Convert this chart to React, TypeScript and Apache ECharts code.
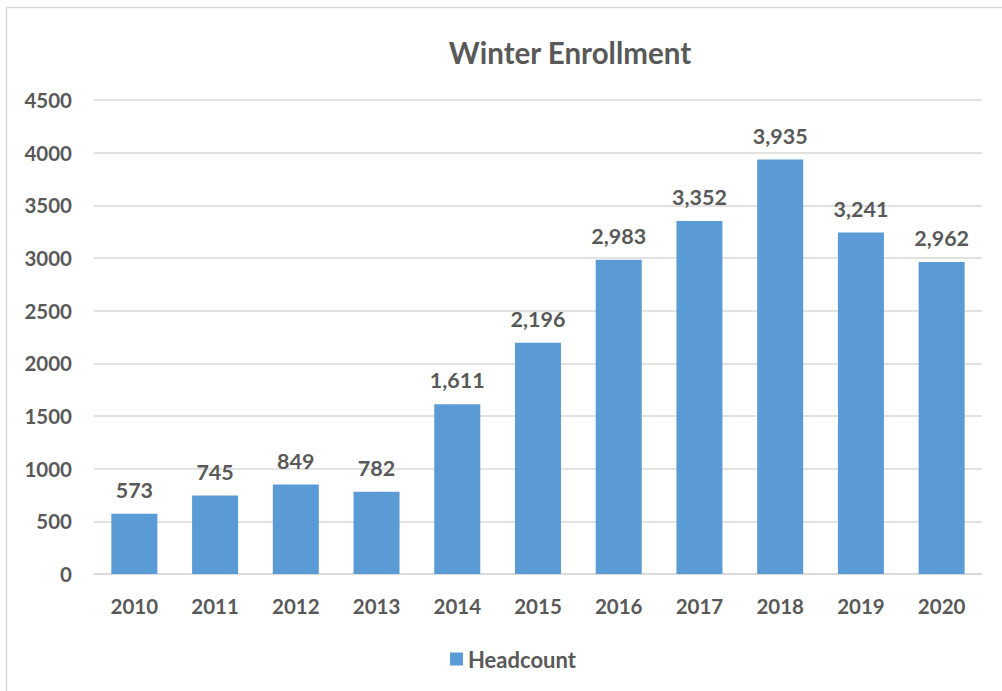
import React, { useEffect, useRef } from "react";
import * as echarts from "echarts";

const years = ["2010", "2011", "2012", "2013", "2014", "2015", "2016", "2017", "2018", "2019", "2020"];
const headcount = [573, 745, 849, 782, 1611, 2196, 2983, 3352, 3935, 3241, 2962];
const seriesName = "Headcount";
const titleText = "Winter Enrollment";

const FONT = "Lato, 'Open Sans', sans-serif";
const TXT = "#595959";

export default function App() {
  const ref = useRef<HTMLDivElement>(null);
  useEffect(() => {
    const chart = echarts.init(ref.current!, null, { renderer: "svg" });
    chart.setOption({
      animation: false,
      backgroundColor: "#fff",
      title: {
        text: titleText,
        left: 565,
        textAlign: "center",
        top: 32,
        textStyle: { color: TXT, fontSize: 29.5, fontWeight: "bold", fontFamily: FONT },
      },
      legend: {
        data: [seriesName],
        left: 445,
        top: 643,
        icon: "rect",
        itemWidth: 13,
        itemHeight: 13,
        itemGap: 6,
        textStyle: { color: TXT, fontSize: 22, fontWeight: "bold", fontFamily: FONT },
      },
      grid: { left: 94, right: 20, top: 100, bottom: 117 },
      xAxis: {
        type: "category",
        data: years,
        axisTick: { show: false },
        axisLine: { lineStyle: { color: "#d9d9d9", width: 1.5 } },
        axisLabel: { color: TXT, fontSize: 20.5, fontWeight: "bold", fontFamily: FONT, margin: 21 },
      },
      yAxis: {
        type: "value",
        min: 0,
        max: 4500,
        interval: 500,
        axisLabel: {
          color: TXT,
          fontSize: 20.5,
          fontWeight: "bold",
          fontFamily: FONT,
          margin: 22,
          formatter: (v: number) => String(v),
        },
        splitLine: { lineStyle: { color: "#d9d9d9", width: 1.5 } },
      },
      series: [
        {
          name: seriesName,
          type: "bar",
          data: headcount,
          barWidth: "57%",
          itemStyle: { color: "#5B9BD5" },
          label: {
            show: true,
            position: "top",
            distance: 13,
            color: TXT,
            fontSize: 21.5,
            fontWeight: "bold",
            fontFamily: FONT,
            formatter: (p: any) => Number(p.value).toLocaleString("en-US"),
          },
        },
      ],
      graphic: [
        {
          type: "rect",
          shape: { x: 6.5, y: 7.5, width: 1000, height: 700 },
          style: { fill: "none", stroke: "#d9d9d9", lineWidth: 1.5 },
          silent: true,
        },
      ],
    });
    return () => chart.dispose();
  }, []);
  return (
    <div
      ref={ref}
      style={{ position: "absolute", left: 0, top: 0, width: 1002, height: 691 }}
    />
  );
}
